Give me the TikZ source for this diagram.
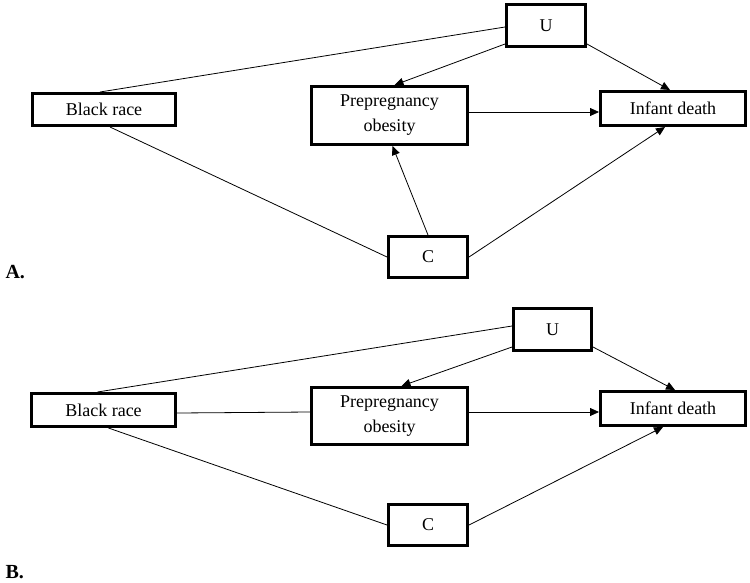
\documentclass[tikz,border=0pt]{standalone}
\usepackage{fontspec}
\setmainfont{Liberation Serif}
\usetikzlibrary{arrows.meta}

\begin{document}
\begin{tikzpicture}[x=1pt,y=-1pt,
    box/.style={draw, line width=3pt, inner sep=0pt, align=center,
        font=\fontsize{18}{25}\selectfont},
    arr/.style={-{Triangle[length=9pt,width=8pt]}, line width=0.8pt},
    link/.style={line width=0.8pt},
    panel/.style={anchor=west, font=\fontsize{20}{24}\selectfont\bfseries}]
    \useasboundingbox (0,0) rectangle (750,582);

    % Panel A
    \node[box, minimum width=143pt, minimum height=32pt] (raceA) at (104,109.5) {Black race};
    \node[box, minimum width=156pt, minimum height=58pt] (obesA) at (389.5,115.5) {Prepregnancy\\obesity};
    \node[box, minimum width=79pt, minimum height=42pt] (uA) at (546,25.5) {U};
    \node[box, minimum width=145pt, minimum height=34pt] (deathA) at (673,108.5) {Infant death};
    \node[box, minimum width=79pt, minimum height=41pt] (cA) at (428,257) {C};
    \node[panel] (labA) at (2,272) {A.};

    % Edges A
    \draw[link] ([xshift=-4pt]raceA.north) -- ([yshift=-1.5pt]uA.west);
    \draw[link] ([xshift=6pt]raceA.south) -- (cA.west);
    \draw[arr] ([yshift=4pt]uA.south west) -- ([xshift=5pt]obesA.north);
    \draw[arr] ([yshift=4pt]uA.south east) -- ([xshift=-3pt]deathA.north);
    \draw[arr] ([yshift=3.5pt]obesA.east) -- ([yshift=-3.5pt]deathA.west);
    \draw[arr] (cA.north) -- ([xshift=3pt]obesA.south);
    \draw[arr] (cA.east) -- ([xshift=-8pt]deathA.south);

    % Panel B
    \node[box, minimum width=144pt, minimum height=33pt] (raceB) at (103.5,410) {Black race};
    \node[box, minimum width=156pt, minimum height=57pt] (obesB) at (389.5,416) {Prepregnancy\\obesity};
    \node[box, minimum width=78pt, minimum height=42pt] (uB) at (552.5,329.5) {U};
    \node[box, minimum width=145pt, minimum height=34pt] (deathB) at (673,408.5) {Infant death};
    \node[box, minimum width=79pt, minimum height=41pt] (cB) at (428,525) {C};
    \node[panel] (labB) at (2,572) {B.};

    % Edges B
    \draw[link] ([xshift=-6pt]raceB.north) -- ([yshift=3.5pt]uB.west);
    \draw[link] ([yshift=-3pt]raceB.east) -- ([yshift=4pt]obesB.west);
    \draw[link] ([xshift=5pt]raceB.south) -- (cB.west);
    \draw[arr] ([yshift=5pt]uB.south west) -- ([xshift=12pt]obesB.north);
    \draw[arr] ([yshift=5pt]uB.south east) -- ([xshift=2pt]deathB.north);
    \draw[arr] ([yshift=4pt]obesB.east) -- ([yshift=-3.5pt]deathB.west);
    \draw[arr] (cB.east) -- ([xshift=-10pt]deathB.south);

\end{tikzpicture}
\end{document}
